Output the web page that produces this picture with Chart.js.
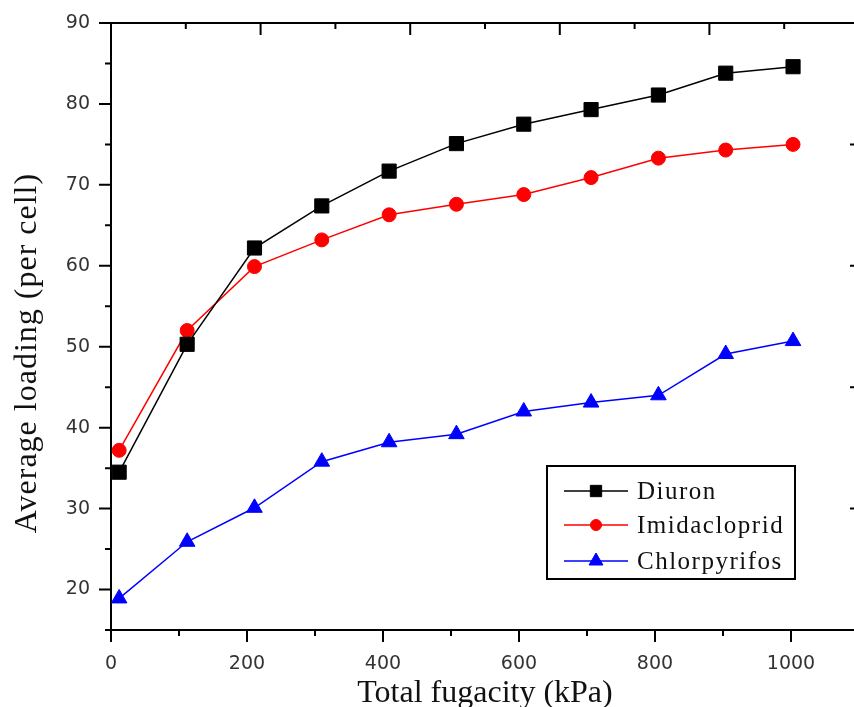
<!DOCTYPE html>
<html>
<head>
<meta charset="utf-8">
<script src="https://cdn.jsdelivr.net/npm/chart.js@4.4.1/dist/chart.umd.min.js"></script>
<style>
  html, body { margin: 0; padding: 0; background: #fff; overflow: hidden; }
  #wrap { width: 854px; height: 707px; overflow: hidden; }
  canvas { display: block; }
</style>
</head>
<body>
<div id="wrap"><canvas id="chart" width="870" height="707"></canvas></div>
<script>
// Total fugacity (kPa) for each simulation point
const fugacity = [12, 112, 211, 310, 409, 508, 607, 706, 805, 904, 1003];

// Average loading (per cell) for each adsorbate
const diuron       = [34.5, 50.3, 62.2, 67.4, 71.7, 75.1, 77.5, 79.3, 81.1, 83.8, 84.6];
const imidacloprid = [37.2, 52.0, 59.9, 63.2, 66.3, 67.6, 68.8, 70.9, 73.3, 74.3, 75.0];
const chlorpyrifos = [18.9, 25.9, 30.1, 35.8, 38.2, 39.2, 42.0, 43.1, 44.0, 49.1, 50.7];

const seriesNames = ['Diuron', 'Imidacloprid', 'Chlorpyrifos'];

// Axis ticks
const xTickLabels = [0, 200, 400, 600, 800, 1000];
const xMinorTicks = [100, 300, 500, 700, 900];
const yTickLabels = [20, 30, 40, 50, 60, 70, 80, 90];
const yMinorTicks = [15, 25, 35, 45, 55, 65, 75, 85];
const topTicks   = [0, 110, 220, 330, 440, 550, 660, 770, 880, 990, 1100];
const rightTicks = [15, 22.5, 30, 37.5, 45, 52.5, 60, 67.5, 75, 82.5, 90];

const xTitle = 'Total fugacity (kPa)';
const yTitle = 'Average loading (per cell)';

const toPoints = ys => fugacity.map((x, i) => ({ x: x, y: ys[i] }));

const styles = [
  { color: '#000000', pointStyle: 'rect', radius: 10, legendRadius: 8 },
  { color: '#ff0000', pointStyle: 'circle', radius: 7, legendRadius: 5.5 },
  { color: '#0000ff', pointStyle: 'triangle', radius: 9, legendRadius: 8 }
];

const datasets = [diuron, imidacloprid, chlorpyrifos].map((ys, i) => ({
  label: seriesNames[i],
  data: toPoints(ys),
  borderColor: styles[i].color,
  backgroundColor: styles[i].color,
  pointBackgroundColor: styles[i].color,
  pointBorderColor: styles[i].color,
  pointStyle: styles[i].pointStyle,
  pointRadius: styles[i].radius,
  pointBorderWidth: 1,
  borderWidth: 1.5,
  tension: 0,
  fill: false
}));

// Frame, tick marks and axis titles
const framePlugin = {
  id: 'frame',
  afterDraw(chart) {
    const { ctx, chartArea: a, scales } = chart;
    const xs = scales.x, ys = scales.y;
    ctx.save();
    ctx.strokeStyle = '#000';
    ctx.lineWidth = 2;
    ctx.beginPath();
    // top and right edges
    ctx.moveTo(a.left, a.top); ctx.lineTo(a.right, a.top);
    ctx.moveTo(a.right, a.top); ctx.lineTo(a.right, a.bottom);
    // left axis ticks (outward)
    yTickLabels.forEach(v => { const p = ys.getPixelForValue(v); ctx.moveTo(a.left - 12, p); ctx.lineTo(a.left, p); });
    yMinorTicks.forEach(v => { const p = ys.getPixelForValue(v); ctx.moveTo(a.left - 6, p); ctx.lineTo(a.left, p); });
    // bottom axis ticks (outward)
    xTickLabels.forEach(v => { const p = xs.getPixelForValue(v); ctx.moveTo(p, a.bottom); ctx.lineTo(p, a.bottom + 12); });
    xMinorTicks.forEach(v => { const p = xs.getPixelForValue(v); ctx.moveTo(p, a.bottom); ctx.lineTo(p, a.bottom + 6); });
    // top axis ticks (inward)
    topTicks.forEach((v, i) => { const p = xs.getPixelForValue(v); ctx.moveTo(p, a.top); ctx.lineTo(p, a.top + (i % 2 === 0 ? 12 : 6)); });
    // right axis ticks (inward)
    rightTicks.forEach((v, i) => { const p = ys.getPixelForValue(v); ctx.moveTo(a.right, p); ctx.lineTo(a.right - (i % 2 === 0 ? 9 : 4), p); });
    ctx.stroke();

    // axis titles
    ctx.fillStyle = '#111';
    ctx.font = '32px "Liberation Serif", "Times New Roman", serif';
    ctx.textAlign = 'center';
    ctx.textBaseline = 'alphabetic';
    ctx.fillText(xTitle, (a.left + a.right) / 2, 702);
    ctx.save();
    ctx.translate(36, 353);
    ctx.rotate(-Math.PI / 2);
    ctx.letterSpacing = '1px';
    ctx.fillText(yTitle, 0, 0);
    ctx.restore();
    ctx.restore();
  }
};

// Boxed legend with line-and-marker samples
const legendPlugin = {
  id: 'boxLegend',
  afterDraw(chart) {
    const { ctx } = chart;
    const box = { x: 547, y: 466, w: 248, h: 113 };
    const rowY = [491, 525, 561];
    ctx.save();
    ctx.fillStyle = '#fff';
    ctx.fillRect(box.x, box.y, box.w, box.h);
    ctx.strokeStyle = '#000';
    ctx.lineWidth = 2;
    ctx.strokeRect(box.x, box.y, box.w, box.h);
    chart.data.datasets.forEach((ds, i) => {
      const y = rowY[i];
      ctx.strokeStyle = ds.borderColor;
      ctx.lineWidth = 1.5;
      ctx.beginPath();
      ctx.moveTo(564, y); ctx.lineTo(628, y);
      ctx.stroke();
      ctx.fillStyle = ds.borderColor;
      ctx.strokeStyle = ds.borderColor;
      ctx.lineWidth = 1;
      Chart.helpers.drawPoint(ctx, { pointStyle: ds.pointStyle, radius: styles[i].legendRadius, rotation: 0, borderWidth: 1 }, 596, y);
      ctx.fillStyle = '#111';
      ctx.font = '25px "Liberation Serif", "Times New Roman", serif';
      ctx.letterSpacing = '1.5px';
      ctx.textAlign = 'left';
      ctx.textBaseline = 'middle';
      ctx.fillText(ds.label, 637, y + 1);
      ctx.letterSpacing = '0px';
    });
    ctx.restore();
  }
};

const tickFont = { family: '"DejaVu Sans", Verdana, sans-serif', size: 19 };

new Chart(document.getElementById('chart'), {
  type: 'line',
  data: { datasets: datasets },
  options: {
    responsive: false,
    animation: false,
    layout: { padding: { top: 23, right: 4, left: 0, bottom: 0 } },
    plugins: { legend: { display: false }, tooltip: { enabled: false } },
    scales: {
      x: {
        type: 'linear',
        min: 0,
        max: 1100,
        afterBuildTicks: s => { s.ticks = xTickLabels.map(v => ({ value: v })); },
        afterFit: s => { s.height = 77; s.paddingLeft = 0; s.paddingRight = 0; },
        grid: { display: false, drawTicks: false },
        border: { display: true, color: '#000', width: 2 },
        ticks: { font: tickFont, color: '#333', padding: 23, maxRotation: 0, autoSkip: false, callback: v => String(v) }
      },
      y: {
        type: 'linear',
        min: 15,
        max: 90,
        afterBuildTicks: s => { s.ticks = yTickLabels.map(v => ({ value: v })); },
        afterFit: s => { s.width = 111; s.paddingTop = 0; s.paddingBottom = 0; },
        grid: { display: false, drawTicks: false },
        border: { display: true, color: '#000', width: 2 },
        ticks: { font: tickFont, color: '#333', padding: 21, autoSkip: false, callback: v => String(v) }
      }
    }
  },
  plugins: [framePlugin, legendPlugin]
});
</script>
</body>
</html>
